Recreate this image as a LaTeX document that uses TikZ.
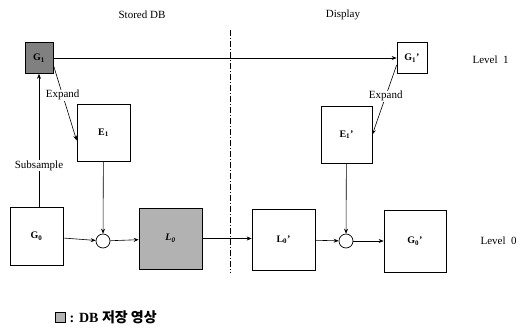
\documentclass[tikz,border=0pt]{standalone}
\usepackage{fontspec}
\setmainfont{Liberation Serif}
\newfontfamily\kor{Noto Sans CJK KR}
\usetikzlibrary{arrows.meta,positioning}

\begin{document}
\begin{tikzpicture}[
    x=1pt, y=-1pt,
    every node/.style={font=\fontsize{11}{13}\selectfont},
    bx/.style={rectangle, draw, line width=0.7pt, inner sep=0pt, font=\fontsize{10}{12}\selectfont\bfseries},
    db/.style={bx, fill=black!30},
    sm/.style={circle, draw, line width=0.7pt, minimum size=14pt, inner sep=0pt},
    e/.style={-{Stealth[length=5pt, width=4pt]}, line width=0.6pt},
    lbl/.style={fill=white, inner sep=0.5pt},
  ]
  \useasboundingbox (0,0) rectangle (521,329);
  % headings
  \node (hdb) at (142,15) {Stored DB};
  \node (hdp) at (343,15) {Display};
  \node[anchor=west] (lv1) at (469,60) {Level\ \ 1};
  \node[anchor=west] (lv0) at (477,241) {Level\ \ 0};
  % boxes
  \node[db, fill=black!50, minimum width=28pt, minimum height=31pt] (g1) at (39,58) {G\textsubscript{1}};
  \node[bx, minimum width=30pt, minimum height=31pt] (g1p) at (412,58) {G\textsubscript{1}'};
  \node[bx, minimum width=53pt, minimum height=57pt] (e1) at (103.5,132.5) {E\textsubscript{1}};
  \node[bx, minimum width=51pt, minimum height=57pt] (e1p) at (346.5,134.5) {E\textsubscript{1}'};
  \node[bx, minimum width=53pt, minimum height=58pt] (g0) at (36.5,236) {G\textsubscript{0}};
  \node[db, minimum width=63pt, minimum height=61pt] (l0) at (170.5,238.5) {\textit{L\textsubscript{0}}};
  \node[bx, minimum width=63pt, minimum height=61pt] (l0p) at (283.5,239.5) {L\textsubscript{0}'};
  \node[bx, minimum width=62pt, minimum height=62pt] (g0p) at (415,241) {G\textsubscript{0}'};
  \node[sm] (s1) at (103,241) {};
  \node[sm] (s2) at (346,241) {};
  % separator
  \coordinate (dtop) at (230,30);
  \coordinate (dbot) at (230,273);
  \draw[line width=0.5pt, dash pattern=on 6pt off 2pt on 1pt off 2pt] (dtop) -- (dbot);
  % connectors
  \draw[e] (g1) -- (g1p);
  \draw[e] ([yshift=-7pt]g1.east) -- node[lbl, pos=0.4] {Expand} ([yshift=-8pt]e1.west);
  \draw[e] ([yshift=-7pt]g1p.west) -- node[lbl, pos=0.45] {Expand} (e1p.east);
  \draw[e] (g0.north -| g1.south) -- node[lbl, pos=0.31] {Subsample} (g1.south);
  \draw[e] (e1) -- (s1);
  \draw[e] (e1p) -- (s2);
  \draw[e] (g0) -- (s1);
  \draw[e] (s1) -- (l0);
  \draw[e] (l0.east) -- (l0p.west |- l0.east);
  \draw[e] (l0p) -- (s2);
  \draw[e] (s2) -- (g0p);
  % legend
  \node[rectangle, draw, fill=black!30, minimum size=10pt, inner sep=0pt] (key) at (60,317) {};
  \node[anchor=west, font=\fontsize{14}{16}\selectfont\bfseries, right=1pt of key] (keytxt) {: DB {\kor 저장 영상}};
\end{tikzpicture}
\end{document}
